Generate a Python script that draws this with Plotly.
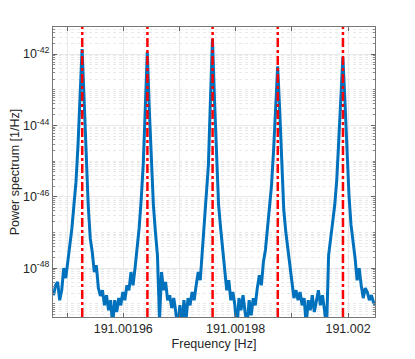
import numpy as np
import plotly.graph_objects as go

# sampling grid of the spectrum
f_start = 191.0019476
f_step = 3.6254e-7

# log10 of the power spectrum [1/Hz]
log_power = [
    -48.76, -48.48, -48.39, -48.90, -48.62, -48.00, -48.28, -47.83, -47.41, -46.88,
    -46.23, -45.59, -44.55, -43.15, -41.86, -43.29, -44.97, -46.23, -47.16, -47.55,
    -48.11, -47.92, -48.56, -48.78, -48.62, -49.04, -48.76, -49.18, -48.90, -49.60,
    -48.90, -49.23, -48.84, -49.04, -48.67, -48.90, -48.48, -48.62, -48.11, -48.48,
    -48.00, -47.49, -46.88, -46.09, -45.11, -43.57, -41.94, -43.57, -45.11, -46.23,
    -46.99, -47.64, -49.46, -48.11, -48.62, -48.39, -48.90, -48.76, -49.12, -48.84,
    -49.23, -49.74, -49.04, -49.60, -48.90, -49.46, -48.84, -49.04, -48.67, -48.90,
    -48.48, -48.11, -48.34, -47.49, -46.93, -46.09, -45.11, -43.29, -41.58, -43.29,
    -44.97, -46.23, -46.88, -47.44, -48.11, -48.62, -48.34, -48.90, -48.67, -49.04,
    -49.74, -48.84, -49.18, -48.76, -49.23, -49.60, -48.90, -49.32, -48.84, -49.04,
    -48.56, -48.20, -48.48, -47.83, -47.49, -46.88, -46.23, -45.67, -44.69, -43.43,
    -42.34, -43.57, -44.97, -46.37, -46.99, -47.49, -48.06, -48.39, -48.84, -48.62,
    -48.90, -48.67, -49.04, -48.84, -49.60, -48.90, -49.18, -48.76, -49.23, -48.90,
    -48.62, -49.04, -48.76, -49.18, -49.74, -47.64, -47.07, -46.71, -46.23, -45.53,
    -44.41, -43.29, -42.08, -43.29, -44.69, -45.95, -46.79, -47.21, -47.72, -48.34,
    -48.00, -48.48, -48.84, -48.56, -48.67, -48.90, -48.76, -48.95, -49.04,
]

# expected line frequencies (red markers)
line_freqs = [191.0019527, 191.0019643, 191.0019759, 191.0019875, 191.0019991]

x_ticks = [191.00195, 191.00196, 191.00197, 191.00198, 191.00199, 191.002]
x_labels = ["", "191.00196", "", "191.00198", "", "191.002"]
y_ticks = [1e-42, 1e-44, 1e-46, 1e-48]
y_labels = ["10<sup>-42</sup>", "10<sup>-44</sup>", "10<sup>-46</sup>", "10<sup>-48</sup>"]

freq = f_start + f_step * np.arange(len(log_power))
power = 10.0 ** np.array(log_power)

fig = go.Figure()
fig.add_trace(go.Scatter(x=freq, y=power, mode="lines",
                         line=dict(color="#0072BD", width=3)))
for f in line_freqs:
    fig.add_vline(x=f, line=dict(color="#FF0000", width=2.5, dash="dashdot"))

# the page body adds 8px around the figure, so the figure is 8px smaller
axis_font = dict(family="Liberation Sans, Arial, sans-serif", size=12.5, color="#262626")
fig.update_layout(
    width=407, height=351,
    margin=dict(l=45, r=40, t=19, b=42),
    paper_bgcolor="white", plot_bgcolor="white",
    showlegend=False,
    font=axis_font,
)
fig.update_xaxes(
    automargin=False,
    range=[191.0019475, 191.0020048],
    tickvals=x_ticks, ticktext=x_labels,
    ticks="inside", ticklen=4, tickcolor="#666",
    showgrid=True, gridcolor="#e8e8e8", gridwidth=1,
    showline=True, linecolor="#777", linewidth=1, mirror="ticks",
    zeroline=False,
    title=dict(text="Frequency [Hz]", font=dict(size=12.5), standoff=4),
)
fig.update_yaxes(
    automargin=False,
    type="log", range=[-49.37, -41.24],
    tickvals=y_ticks, ticktext=y_labels,
    ticks="inside", ticklen=4, tickcolor="#666",
    showgrid=True, gridcolor="#e8e8e8", gridwidth=1,
    minor=dict(dtick="D1", showgrid=True, gridcolor="#e9e9e9", griddash="dot",
               ticks="inside", ticklen=2, tickcolor="#888"),
    showline=True, linecolor="#777", linewidth=1, mirror="ticks",
    zeroline=False,
    title=dict(text="Power spectrum [1/Hz]", font=dict(size=12.5), standoff=4),
)

fig.write_html("out.html")
